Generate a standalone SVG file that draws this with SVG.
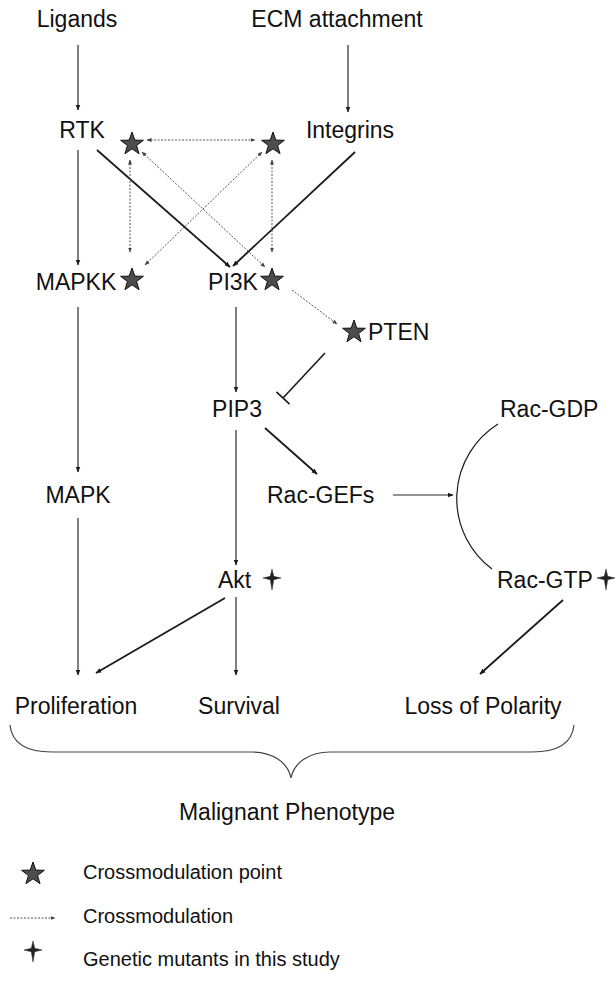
<svg xmlns="http://www.w3.org/2000/svg" width="616" height="982" viewBox="0 0 616 982">
  <style>
    text { font-family: "Liberation Sans", Arial, sans-serif; font-size: 23px; fill: #111; }
    .legend { font-size: 20px; }
    .edge { stroke: #2a2a2a; stroke-width: 1.2; fill: none; marker-end: url(#arrow); }
    .edge.bold { stroke: #1a1a1a; stroke-width: 1.8; }
    .xmod { stroke: #555; stroke-width: 1; stroke-dasharray: 2 1.5; fill: none; marker-end: url(#dotArrow); }
    .xmod.both { marker-start: url(#dotArrowStart); }
    .inhib { stroke: #1a1a1a; stroke-width: 1.6; fill: none; }
    .brace { stroke: #444; stroke-width: 1.2; fill: none; }
    .star { fill: #4d4d4d; stroke: #111; stroke-width: 1; }
    .mut { fill: #222; stroke: #222; stroke-width: 0.5; }
  </style>
  <defs>
    <marker id="arrow" viewBox="0 0 10 10" refX="9" refY="5" markerWidth="6" markerHeight="6" markerUnits="userSpaceOnUse" orient="auto">
      <path d="M0,1 L10,5 L0,9 z" fill="#1a1a1a"/>
    </marker>
    <marker id="dotArrow" viewBox="0 0 10 10" refX="9" refY="5" markerWidth="5" markerHeight="5" markerUnits="userSpaceOnUse" orient="auto">
      <path d="M0,1 L10,5 L0,9 z" fill="#444"/>
    </marker>
    <marker id="dotArrowStart" viewBox="0 0 10 10" refX="1" refY="5" markerWidth="5" markerHeight="5" markerUnits="userSpaceOnUse" orient="auto">
      <path d="M10,1 L0,5 L10,9 z" fill="#444"/>
    </marker>
    <!-- five-point crossmodulation star -->
    <path id="starShape" d="M0,-12 L2.82,-3.88 L11.41,-3.71 L4.57,1.48 L7.05,9.71 L0,4.8 L-7.05,9.71 L-4.57,1.48 L-11.41,-3.71 L-2.82,-3.88 Z"/>
    <!-- four-point mutant marker -->
    <path id="mutShape" d="M0,-9 L1.7,-1.7 L9,0 L1.7,1.7 L0,12 L-1.7,1.7 L-9,0 L-1.7,-1.7 Z"/>
  </defs>

  <!-- connectors -->
  <g id="connectors">
    <line class="edge" x1="78" y1="45" x2="78" y2="110"/>
    <line class="edge" x1="348" y1="45" x2="348" y2="112"/>
    <line class="edge" x1="78" y1="150" x2="78" y2="265"/>
    <line class="edge bold" x1="97" y1="150" x2="230" y2="267"/>
    <line class="edge bold" x1="355" y1="152" x2="233" y2="266"/>
    <line class="edge" x1="78" y1="307" x2="78" y2="472"/>
    <line class="edge" x1="236" y1="307" x2="236" y2="392"/>
    <line class="edge" x1="236" y1="430" x2="236" y2="565"/>
    <line class="edge bold" x1="265" y1="428" x2="317" y2="474"/>
    <line class="edge" x1="393" y1="495" x2="453" y2="495"/>
    <line class="edge" x1="78" y1="518" x2="78" y2="675"/>
    <line class="edge bold" x1="225" y1="598" x2="96" y2="673"/>
    <line class="edge" x1="236" y1="597" x2="236" y2="675"/>
    <line class="edge bold" x1="563" y1="600" x2="480" y2="674"/>

    <!-- Rac-GDP / Rac-GTP cycle -->
    <path class="brace" style="stroke:#1a1a1a" d="M498,424 A88,88 0 0 0 492,569"/>

    <!-- PTEN inhibits PIP3 -->
    <line class="inhib" x1="325" y1="353" x2="283" y2="398"/>
    <line class="inhib" x1="276.4" y1="391.9" x2="289.6" y2="404.1"/>

    <!-- crossmodulation links -->
    <line class="xmod both" x1="147" y1="140" x2="255" y2="140"/>
    <line class="xmod both" x1="130" y1="160" x2="130" y2="252"/>
    <line class="xmod both" x1="272" y1="160" x2="272" y2="252"/>
    <line class="xmod both" x1="142" y1="152" x2="265" y2="267"/>
    <line class="xmod both" x1="262" y1="152" x2="145" y2="265"/>
    <line class="xmod" x1="292" y1="290" x2="337" y2="324"/>

    <!-- phenotype brace -->
    <path class="brace" d="M10,725 C12,745 30,752 52,752 L252,752 C272,752 288,762 291,778 C294,762 310,752 330,752 L532,752 C556,752 572,745 574,725"/>
  </g>

  <!-- nodes -->
  <g id="ligands"><text x="77" y="27" text-anchor="middle">Ligands</text></g>
  <g id="ecm"><text x="337" y="27" text-anchor="middle">ECM attachment</text></g>
  <g id="rtk"><text x="82" y="138" text-anchor="middle">RTK</text>
    <use href="#starShape" class="star" x="132" y="144"/></g>
  <g id="integrins"><use href="#starShape" class="star" x="273" y="144"/>
    <text x="350" y="138" text-anchor="middle">Integrins</text></g>
  <g id="mapkk"><text x="76" y="290" text-anchor="middle">MAPKK</text>
    <use href="#starShape" class="star" x="132" y="280"/></g>
  <g id="pi3k"><text x="233" y="290" text-anchor="middle">PI3K</text>
    <use href="#starShape" class="star" x="272" y="280"/></g>
  <g id="pten"><use href="#starShape" class="star" x="354" y="332"/>
    <text x="368" y="340">PTEN</text></g>
  <g id="pip3"><text x="237" y="417" text-anchor="middle">PIP3</text></g>
  <g id="rac-gdp"><text x="500" y="417">Rac-GDP</text></g>
  <g id="mapk"><text x="78" y="503" text-anchor="middle">MAPK</text></g>
  <g id="rac-gefs"><text x="267" y="503">Rac-GEFs</text></g>
  <g id="akt"><text x="218" y="588">Akt</text>
    <use href="#mutShape" class="mut" x="272" y="578"/></g>
  <g id="rac-gtp"><text x="497" y="588">Rac-GTP</text>
    <use href="#mutShape" class="mut" x="606" y="578"/></g>
  <g id="proliferation"><text x="76" y="714" text-anchor="middle">Proliferation</text></g>
  <g id="survival"><text x="239" y="714" text-anchor="middle">Survival</text></g>
  <g id="loss-of-polarity"><text x="483" y="714" text-anchor="middle">Loss of Polarity</text></g>
  <g id="malignant"><text x="287" y="820" text-anchor="middle">Malignant Phenotype</text></g>

  <!-- legend -->
  <g id="legend">
    <use href="#starShape" class="star" x="33" y="874"/>
    <text class="legend" x="83" y="879">Crossmodulation point</text>
    <line class="xmod" x1="10" y1="918" x2="55" y2="918"/>
    <text class="legend" x="83" y="923">Crossmodulation</text>
    <use href="#mutShape" class="mut" x="33" y="950"/>
    <text class="legend" x="83" y="966">Genetic mutants in this study</text>
  </g>
</svg>
